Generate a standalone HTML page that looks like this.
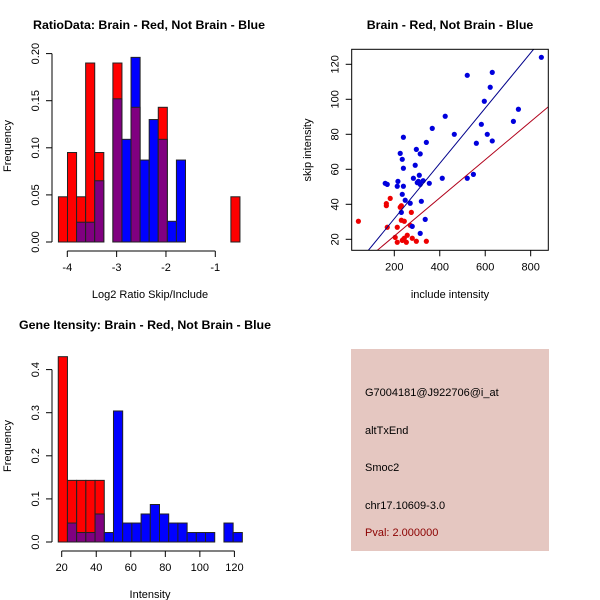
<!DOCTYPE html>
<html><head><meta charset="utf-8"><style>
body{margin:0;background:#fff}
svg{display:block;font-family:"Liberation Sans",Arial,sans-serif}
</style></head><body>
<svg id="c" width="600" height="600" xmlns="http://www.w3.org/2000/svg"></svg>
<script>
// ---- Panel 1 data: ratio histogram ----
const ratioBinStart = -4.18;
const ratioBinWidth = 0.184;
const ratioRed  = [0.048,0.095,0.048,0.19,0.095,0,0.19,0,0.143,0,0,0.143,0,0,0,0,0,0,0,0.048];
const ratioBlue = [0,0,0.021,0.021,0.065,0,0.152,0.109,0.196,0.087,0.13,0.109,0.022,0.087,0,0,0,0,0,0];
const ratioXTicks = [-4,-3,-2,-1];
const ratioYTicks = ["0.00","0.05","0.10","0.15","0.20"];
// ---- Panel 2 data: scatter ----
const blueX = [847,521,631,622,596,746,724,583,609,631,561,464,424,367,341,240,297,314,226,235,240,292,284,310,301,314,327,354,411,521,548,160,169,216,213,240,235,248,270,319,231,336,279,314,306];
const blueY = [124,113.7,115.4,106.9,98.9,94.3,87.4,85.7,80,76.2,74.9,80,90.3,83.4,75.4,78.3,71.4,68.8,69.1,65.7,60.6,62.3,54.9,56.6,52.4,51.4,53.5,52,54.9,54.9,57.1,52,51.4,53.1,50.3,50.3,45.7,42.3,40.6,41.7,35.4,31.4,27.4,23.4,53.1];
const redX = [42,165,165,182,169,226,231,275,231,244,213,270,204,213,235,244,253,257,279,297,341,240];
const redY = [30.3,40.4,39.2,43.4,26.9,38.3,39.2,35.4,30.9,30.3,26.9,28,21.1,18.3,19.4,20.6,18.3,22.3,20.6,18.9,18.9,20];
const blueFit = [0.16,0.158];  // intercept, slope
const redFit = [0.07,0.109];
const scatXTicks = [200,400,600,800];
const scatYTicks = [20,40,60,80,100,120];
// ---- Panel 3 data: intensity histogram ----
const intBinStart = 18;
const intBinWidth = 5.33;
const intRed  = [0.43,0.143,0.143,0.143,0.143,0,0,0,0,0,0,0,0,0,0,0,0,0,0,0];
const intBlue = [0,0.044,0.022,0.022,0.065,0.022,0.304,0.044,0.044,0.065,0.087,0.065,0.044,0.044,0.022,0.022,0.022,0,0.044,0.022];
const intXTicks = [20,40,60,80,100,120];
const intYTicks = ["0.0","0.1","0.2","0.3","0.4"];

const NS="http://www.w3.org/2000/svg";
const svg=document.getElementById('c');
function mk(tag,attrs,parent){const e=document.createElementNS(NS,tag);for(const k in attrs)e.setAttribute(k,attrs[k]);(parent||svg).appendChild(e);return e;}
function txt(s,x,y,attrs,parent){const t=mk('text',Object.assign({x:x,y:y,'font-size':11,fill:'#000','text-anchor':'middle'},attrs||{}),parent);t.textContent=s;return t;}

function hist(opts){
  const g=mk('g',{});
  
  
  const sx=v=>opts.x0+(v-opts.xv0)*opts.xs;
  const sy=v=>opts.y0-v*opts.ys;
  for(let i=0;i<opts.red.length;i++){
    const a=opts.start+i*opts.width,b=a+opts.width;
    const r=opts.red[i],bl=opts.blue[i];
    const x1=sx(a),x2=sx(b);
    const mx=Math.max(r,bl),mn=Math.min(r,bl);
    if(mx>0){
      const rc=mk('rect',{x:x1,y:sy(mx),width:x2-x1,height:sy(0)-sy(mx),fill:r>=bl?'#ff0000':'#0000ff',stroke:'#222','stroke-width':1},g);
      
      
    }
    if(mn>0){
      const pc=mk('rect',{x:x1,y:sy(mn),width:x2-x1,height:sy(0)-sy(mn),fill:'#800080',stroke:'#222','stroke-width':1},g);
      
      
    }
  }
  const yv=opts.yticks.map(Number);
  mk('line',{x1:opts.yaxX,x2:opts.yaxX,y1:sy(yv[0]),y2:sy(yv[yv.length-1]),stroke:'#000'},g);
  opts.yticks.forEach(t=>{const y=sy(Number(t));mk('line',{x1:opts.yaxX,x2:opts.yaxX-6,y1:y,y2:y,stroke:'#000'},g);
    const l=txt(t,opts.yaxX-13,y,{transform:`rotate(-90 ${opts.yaxX-13} ${y})`},g);
    });
  const xa=opts.xticks;
  mk('line',{x1:sx(xa[0]),x2:sx(xa[xa.length-1]),y1:opts.xaxY,y2:opts.xaxY,stroke:'#000'},g);
  xa.forEach(t=>{const x=sx(t);mk('line',{x1:x,x2:x,y1:opts.xaxY,y2:opts.xaxY+6,stroke:'#000'},g);
    const l=txt(String(t),x,opts.xaxY+20,{},g);
    });
}

hist({name:'ratio-histogram',red:ratioRed,blue:ratioBlue,start:ratioBinStart,width:ratioBinWidth,
  x0:67.3,xv0:-4,xs:49.33,y0:242,ys:942,yaxX:52,xaxY:251,xticks:ratioXTicks,yticks:ratioYTicks});
let t;
t=txt('RatioData: Brain - Red, Not Brain - Blue',149,29,{'font-size':12.4,'font-weight':'bold'});
t=txt('Log2 Ratio Skip/Include',150,298);
t=txt('Frequency',11,146,{transform:'rotate(-90 11 146)'});

hist({name:'intensity-histogram',red:intRed,blue:intBlue,start:intBinStart,width:intBinWidth,
  x0:61.7,xv0:20,xs:1.727,y0:542,ys:431,yaxX:52,xaxY:551,xticks:intXTicks,yticks:intYTicks});
t=txt('Gene Itensity: Brain - Red, Not Brain - Blue',145,329,{'font-size':12.4,'font-weight':'bold'});
t=txt('Intensity',150,598);
t=txt('Frequency',11,446,{transform:'rotate(-90 11 446)'});

(function(){
  const L=351.7,R=548.3,T=49.3,B=250.3;
  const sx=v=>394.3+(v-200)*0.2273;
  const sy=v=>239.3-(v-20)*1.75;
  const g=mk('g',{});
  
  
  mk('clipPath',{id:'clip'},g).appendChild(document.createElementNS(NS,'rect'));
  const cr=g.querySelector('#clip rect');cr.setAttribute('x',L);cr.setAttribute('y',T);cr.setAttribute('width',R-L);cr.setAttribute('height',B-T);
  const pg=mk('g',{'clip-path':'url(#clip)'},g);
  redX.forEach((x,i)=>{const c=mk('circle',{cx:sx(x),cy:sy(redY[i]),r:2.6,fill:'#ee0000'},pg);
    });
  blueX.forEach((x,i)=>{const c=mk('circle',{cx:sx(x),cy:sy(blueY[i]),r:2.6,fill:'#0000dd'},pg);
    });
  [[blueFit,'#00008b','blue-fit-line'],[redFit,'#b0001a','red-fit-line']].forEach(([f,col,nm])=>{
    const l=mk('line',{x1:sx(0),y1:sy(f[0]),x2:sx(1000),y2:sy(f[0]+f[1]*1000),stroke:col,'stroke-width':1},pg);
    });
  mk('rect',{x:L,y:T,width:R-L,height:B-T,fill:'none',stroke:'#000'},g);
  scatXTicks.forEach(v=>{const x=sx(v);mk('line',{x1:x,x2:x,y1:B,y2:B+6,stroke:'#000'},g);
    const l=txt(String(v),x,B+20,{},g);});
  scatYTicks.forEach(v=>{const y=sy(v);mk('line',{x1:L,x2:L-6,y1:y,y2:y,stroke:'#000'},g);
    const l=txt(String(v),L-13,y,{transform:`rotate(-90 ${L-13} ${y})`},g);});
})();
t=txt('Brain - Red, Not Brain - Blue',450,29,{'font-size':12.4,'font-weight':'bold'});
t=txt('include intensity',450,298);
t=txt('skip intensity',311,150,{transform:'rotate(-90 311 150)'});

const box=mk('rect',{x:351,y:349,width:198,height:202,fill:'#e5c7c1'});

const info=[['G7004181@J922706@i_at','probe-id',396,'#000'],['altTxEnd','event-type',434,'#000'],['Smoc2','gene-name',471,'#000'],['chr17.10609-3.0','location',509,'#000'],['Pval: 2.000000','p-value',536,'#8b0000']];
info.forEach(([s,nm,y,col])=>{const e=txt(s,365,y,{'text-anchor':'start',fill:col});});
</script>
</body></html>
